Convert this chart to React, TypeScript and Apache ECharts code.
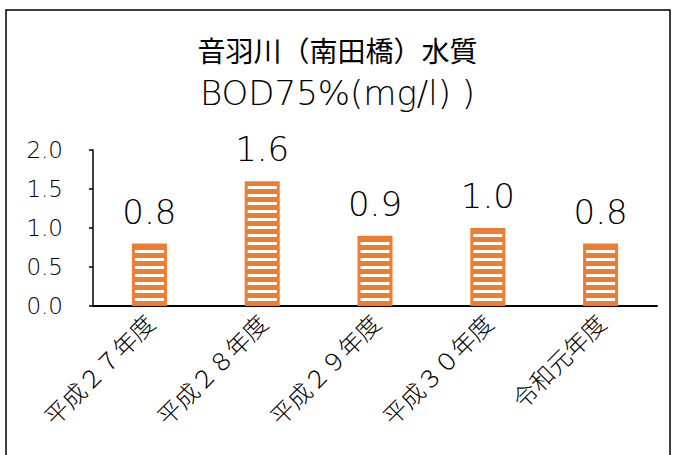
import React, { useEffect, useRef } from "react";
import * as echarts from "echarts";

const titleLine1 = "音羽川（南田橋）水質";
const titleLine2 = "BOD75%(mg/l) )";
const categories = ["平成２７年度", "平成２８年度", "平成２９年度", "平成３０年度", "令和元年度"];
const values = [0.8, 1.6, 0.9, 1.0, 0.8];
const yMin = 0;
const yMax = 2;
const yInterval = 0.5;

const ORANGE = "#ED7D31";
const stripeSvg =
  '<svg xmlns="http://www.w3.org/2000/svg" width="10" height="8">' +
  '<rect width="10" height="8" fill="' + ORANGE + '"/>' +
  '<rect y="2" width="10" height="3" fill="#FFFFFF"/></svg>';
const stripeUrl = "data:image/svg+xml;charset=utf-8," + encodeURIComponent(stripeSvg);

const CJK = '"Noto Sans CJK JP", "Noto Sans", sans-serif';
const NUM = '"DejaVu Sans", sans-serif';

export default function App() {
  const ref = useRef<HTMLDivElement>(null);
  useEffect(() => {
    document.body.style.margin = "0";
    const chart = echarts.init(ref.current!, null, { renderer: "svg" });
    chart.setOption({
      animation: false,
      backgroundColor: "#fff",
      title: [
        {
          text: titleLine1,
          left: "center",
          top: 31,
          textStyle: { fontFamily: CJK, fontSize: 28, fontWeight: "normal", color: "#000" },
        },
        {
          text: titleLine2,
          left: "center",
          top: 71,
          textStyle: { fontFamily: NUM, fontSize: 34, fontWeight: 300, color: "#000" },
        },
      ],
      graphic: [
        {
          type: "rect",
          shape: { x: 6, y: 10, width: 664, height: 470 },
          style: { fill: "none", stroke: "#000", lineWidth: 1.5 },
          silent: true,
        },
      ],
      grid: { left: 93, right: 18, top: 150, bottom: 149, containLabel: false },
      xAxis: {
        type: "category",
        data: categories,
        axisLine: { show: true, lineStyle: { color: "#000", width: 2 } },
        axisTick: { show: false },
        axisLabel: {
          interval: 0,
          rotate: 45,
          margin: 12,
          fontFamily: CJK,
          fontSize: 24,
          fontWeight: 300,
          color: "#000",
        },
      },
      yAxis: {
        type: "value",
        min: yMin,
        max: yMax,
        interval: yInterval,
        splitLine: { show: false },
        axisLine: { show: true, lineStyle: { color: "#000", width: 1.5 } },
        axisTick: { show: true, inside: false, length: 4, lineStyle: { color: "#000", width: 1.5 } },
        axisLabel: {
          margin: 30,
          fontFamily: NUM,
          fontSize: 23,
          fontWeight: 300,
          color: "#000",
          formatter: (v: number) => v.toFixed(1),
        },
      },
      series: [
        {
          type: "bar",
          data: values,
          barWidth: 35,
          itemStyle: {
            color: { image: stripeUrl, repeat: "repeat", imageWidth: 10, imageHeight: 8 },
            borderColor: ORANGE,
            borderWidth: 3,
          },
          label: {
            show: true,
            position: "top",
            distance: 15,
            fontFamily: NUM,
            fontSize: 34,
            fontWeight: 300,
            color: "#000",
            formatter: (p: any) => Number(p.value).toFixed(1),
          },
        },
      ],
    });
    return () => chart.dispose();
  }, []);
  return <div ref={ref} style={{ width: 675, height: 455 }} />;
}
